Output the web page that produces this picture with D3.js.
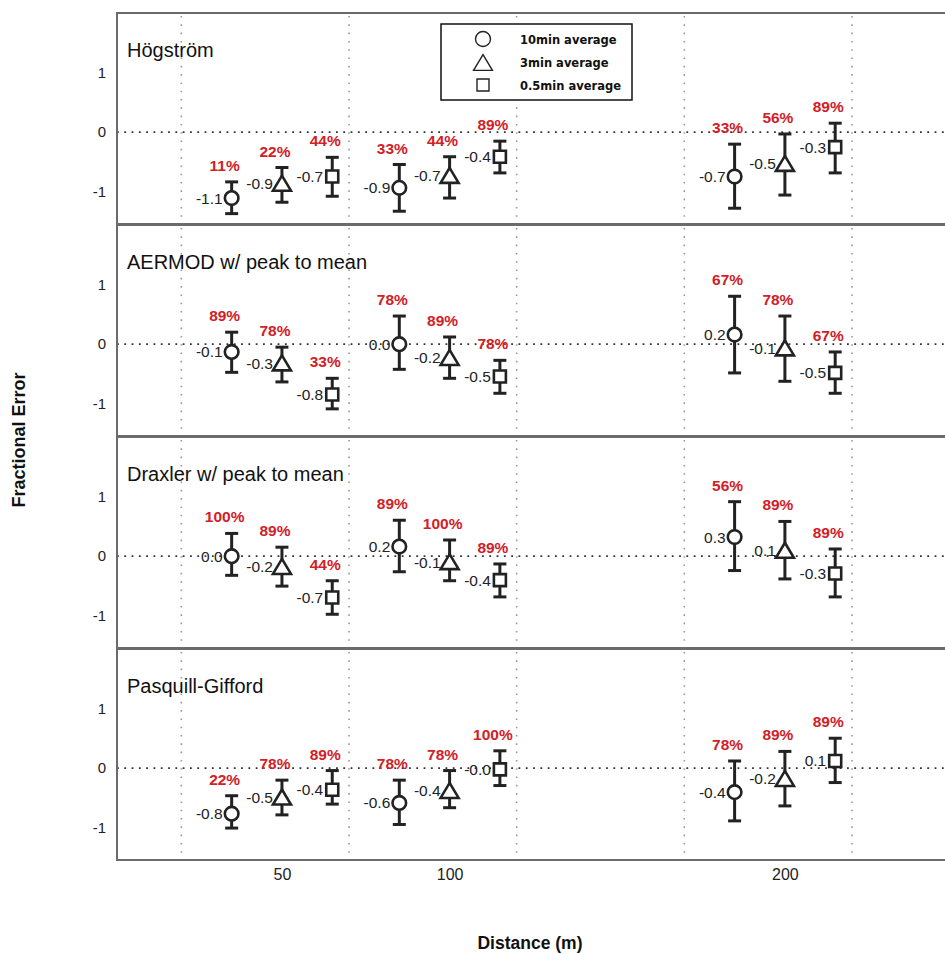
<!DOCTYPE html>
<html>
<head>
<meta charset="utf-8">
<script src="https://cdn.jsdelivr.net/npm/d3@7"></script>
<style>
  body { margin: 0; background: #fff; }
  svg { display: block; font-family: "Liberation Sans", Arial, sans-serif; }
</style>
</head>
<body>
<svg id="chart" width="945" height="954"></svg>
<script>
// panel names, x categories, series
var panelNames = ["Högström", "AERMOD w/ peak to mean", "Draxler w/ peak to mean", "Pasquill-Gifford"];
var distances = [50, 100, 200];
var seriesNames = ["10min average", "3min average", "0.5min average"];
var yTicks = [-1, 0, 1];

// values in order: 50m (10min, 3min, 0.5min), 100m (...), 200m (...)
var hogMean = [-1.10, -0.86, -0.74, -0.93, -0.73, -0.41, -0.74, -0.53, -0.25];
var hogLow  = [-1.36, -1.17, -1.07, -1.32, -1.10, -0.68, -1.27, -1.05, -0.68];
var hogHigh = [-0.83, -0.59, -0.42, -0.54, -0.41, -0.15, -0.20, -0.03, 0.15];
var hogLabel = ["-1.1", "-0.9", "-0.7", "-0.9", "-0.7", "-0.4", "-0.7", "-0.5", "-0.3"];
var hogPct = [11, 22, 44, 33, 44, 89, 33, 56, 89];

var aerMean = [-0.13, -0.32, -0.84, 0.00, -0.23, -0.54, 0.16, -0.07, -0.48];
var aerLow  = [-0.47, -0.63, -1.08, -0.42, -0.57, -0.82, -0.48, -0.62, -0.82];
var aerHigh = [0.20, -0.05, -0.57, 0.47, 0.12, -0.27, 0.80, 0.47, -0.13];
var aerLabel = ["-0.1", "-0.3", "-0.8", "0.0", "-0.2", "-0.5", "0.2", "-0.1", "-0.5"];
var aerPct = [89, 78, 33, 78, 89, 78, 67, 78, 67];

var draMean = [0.00, -0.18, -0.69, 0.16, -0.10, -0.40, 0.32, 0.09, -0.29];
var draLow  = [-0.32, -0.50, -0.97, -0.26, -0.41, -0.68, -0.24, -0.38, -0.68];
var draHigh = [0.38, 0.15, -0.41, 0.60, 0.27, -0.13, 0.91, 0.58, 0.12];
var draLabel = ["0.0", "-0.2", "-0.7", "0.2", "-0.1", "-0.4", "0.3", "0.1", "-0.3"];
var draPct = [100, 89, 44, 89, 100, 89, 56, 89, 89];

var pgMean = [-0.76, -0.49, -0.36, -0.58, -0.38, -0.02, -0.40, -0.18, 0.12];
var pgLow  = [-1.00, -0.78, -0.60, -0.94, -0.66, -0.29, -0.88, -0.63, -0.24];
var pgHigh = [-0.46, -0.20, -0.04, -0.20, -0.04, 0.29, 0.12, 0.28, 0.50];
var pgLabel = ["-0.8", "-0.5", "-0.4", "-0.6", "-0.4", "-0.0", "-0.4", "-0.2", "0.1"];
var pgPct = [22, 78, 89, 78, 78, 100, 78, 89, 89];

var means = [hogMean, aerMean, draMean, pgMean];
var lows = [hogLow, aerLow, draLow, pgLow];
var highs = [hogHigh, aerHigh, draHigh, pgHigh];
var labels = [hogLabel, aerLabel, draLabel, pgLabel];
var pcts = [hogPct, aerPct, draPct, pgPct];

var gridX = [20, 70, 120, 170, 220];
var dodge = 15;   // metres between series inside a group

var frameLeft = 117;
var frameRight = 952;
var panelTop = 13;
var panelH = 212;

var svg = d3.select('#chart');

var x = d3.scaleLinear()
    .domain([0, 250])
    .range([114.3, 114.3 + 250 * 3.353]);

var inkColor = '#222';
var red = '#d22027';

function markerPath(k, s) {
    if (k == 0) return null;
    if (k == 1) return 'M0,' + (-8 * s) + 'L' + (9 * s) + ',' + (7 * s) + 'L' + (-9 * s) + ',' + (7 * s) + 'Z';
    return 'M' + (-6 * s) + ',' + (-6 * s) + 'h' + (12 * s) + 'v' + (12 * s) + 'h' + (-12 * s) + 'Z';
}

panelNames.forEach(function(name, p) {
    var top = panelTop + p * panelH;
    var y = d3.scaleLinear()
        .domain([-1.55, 1.99])
        .range([top + panelH, top]);

    var g = svg.append('g');

    // vertical dotted grid
    g.selectAll('line.grid')
        .data(gridX)
        .enter()
        .append('line')
        .attr('x1', function(d) { return x(d); })
        .attr('x2', function(d) { return x(d); })
        .attr('y1', top + 3)
        .attr('y2', top + panelH - 2)
        .attr('stroke', '#9a9a9a')
        .attr('stroke-width', 1.6)
        .attr('stroke-dasharray', '1.6,6.7');

    // zero line
    g.append('line')
        .attr('x1', frameLeft)
        .attr('x2', frameRight)
        .attr('y1', y(0))
        .attr('y2', y(0))
        .attr('stroke', '#333')
        .attr('stroke-width', 1.8)
        .attr('stroke-dasharray', '1.8,5.5');

    // frame
    g.append('rect')
        .attr('x', frameLeft)
        .attr('y', top)
        .attr('width', frameRight - frameLeft)
        .attr('height', panelH - 1)
        .attr('fill', 'none')
        .attr('stroke', '#6b6b6b')
        .attr('stroke-width', 2);

    // y axis
    var yAxis = g.append('g')
        .attr('transform', 'translate(' + frameLeft + ',0)')
        .call(d3.axisLeft(y).tickValues(yTicks).tickSize(0).tickPadding(11)
            .tickFormat(function(d) { return String(d); }));
    yAxis.select('.domain').remove();
    yAxis.selectAll('text')
        .attr('font-size', 15)
        .attr('font-family', '"Liberation Sans", Arial, sans-serif')
        .attr('fill', '#222');

    // title
    g.append('text')
        .attr('x', 127)
        .attr('y', top + 44)
        .attr('font-size', 20)
        .attr('fill', '#111')
        .text(name);

    var pts = means[p].map(function(m, i) {
        var gi = Math.floor(i / 3), s = i % 3;
        return {
            xv: distances[gi] + (s - 1) * dodge,
            s: s,
            mean: m,
            low: lows[p][i],
            high: highs[p][i],
            label: labels[p][i],
            pct: pcts[p][i]
        };
    });

    var pg = g.selectAll('g.pt')
        .data(pts)
        .enter()
        .append('g');

    pg.append('line')
        .attr('x1', function(d) { return x(d.xv); })
        .attr('x2', function(d) { return x(d.xv); })
        .attr('y1', function(d) { return y(d.low); })
        .attr('y2', function(d) { return y(d.high); })
        .attr('stroke', inkColor)
        .attr('stroke-width', 3);

    [ 'low', 'high' ].forEach(function(k) {
        pg.append('line')
            .attr('x1', function(d) { return x(d.xv) - 6.5; })
            .attr('x2', function(d) { return x(d.xv) + 6.5; })
            .attr('y1', function(d) { return y(d[k]); })
            .attr('y2', function(d) { return y(d[k]); })
            .attr('stroke', inkColor)
            .attr('stroke-width', 3);
    });

    pg.each(function(d) {
        var el = d3.select(this);
        if (d.s == 0) {
            el.append('circle')
                .attr('cx', x(d.xv))
                .attr('cy', y(d.mean))
                .attr('r', 6.8)
                .attr('fill', '#fff')
                .attr('stroke', inkColor)
                .attr('stroke-width', 2.6);
        } else {
            el.append('path')
                .attr('d', markerPath(d.s, 1))
                .attr('transform', 'translate(' + x(d.xv) + ',' + y(d.mean) + ')')
                .attr('fill', '#fff')
                .attr('stroke', inkColor)
                .attr('stroke-width', 2.6)
                .attr('stroke-linejoin', 'miter');
        }
    });

    pg.append('text')
        .attr('x', function(d) { return x(d.xv) - 9; })
        .attr('y', function(d) { return y(d.mean) + 5.5; })
        .attr('text-anchor', 'end')
        .attr('font-size', 15.5)
        .attr('fill', '#222')
        .text(function(d) { return d.label; });

    pg.append('text')
        .attr('x', function(d) { return x(d.xv) - 7; })
        .attr('y', function(d) { return y(d.high) - 11; })
        .attr('text-anchor', 'middle')
        .attr('font-size', 15.5)
        .attr('font-weight', 'bold')
        .attr('fill', red)
        .text(function(d) { return d.pct + '%'; });
});

// x axis
var bottom = panelTop + panelNames.length * panelH - 3;
var xAxis = svg.append('g')
    .attr('transform', 'translate(0,' + bottom + ')')
    .call(d3.axisBottom(x).tickValues(distances).tickSize(0).tickPadding(11));
xAxis.select('.domain').remove();
xAxis.selectAll('text')
    .attr('font-size', 16)
    .attr('font-family', '"Liberation Sans", Arial, sans-serif')
    .attr('fill', '#222');

// axis titles
svg.append('text')
    .attr('x', 530)
    .attr('y', 949)
    .attr('text-anchor', 'middle')
    .attr('font-size', 17.5)
    .attr('font-weight', 'bold')
    .attr('fill', '#111')
    .text('Distance (m)');

svg.append('text')
    .attr('transform', 'translate(25,440) rotate(-90)')
    .attr('text-anchor', 'middle')
    .attr('font-size', 18)
    .attr('font-weight', 'bold')
    .attr('fill', '#111')
    .text('Fractional Error');

// legend
var legend = svg.append('g').attr('transform', 'translate(441,24)');
legend.append('rect')
    .attr('width', 191)
    .attr('height', 76)
    .attr('fill', '#fff')
    .attr('stroke', '#111')
    .attr('stroke-width', 1.5);

var li = legend.selectAll('g.li')
    .data(seriesNames)
    .enter()
    .append('g')
    .attr('transform', function(d, i) { return 'translate(0,' + (15 + i * 23) + ')'; });

li.each(function(d, i) {
    var el = d3.select(this);
    if (i == 0) {
        el.append('circle').attr('cx', 42).attr('cy', 0).attr('r', 7.5)
            .attr('fill', 'none').attr('stroke', inkColor).attr('stroke-width', 1.4);
    } else {
        el.append('path').attr('d', markerPath(i, i == 1 ? 1.05 : 1.0))
            .attr('transform', 'translate(42,' + (i == 1 ? 1 : 0) + ')')
            .attr('fill', 'none').attr('stroke', inkColor).attr('stroke-width', 1.4);
    }
});

li.append('text')
    .attr('x', 79)
    .attr('y', 4.5)
    .attr('font-family', '"DejaVu Sans", Verdana, sans-serif')
    .attr('font-size', 11.5)
    .attr('font-weight', 'bold')
    .attr('fill', '#111')
    .text(function(d) { return d; });
</script>
</body>
</html>
